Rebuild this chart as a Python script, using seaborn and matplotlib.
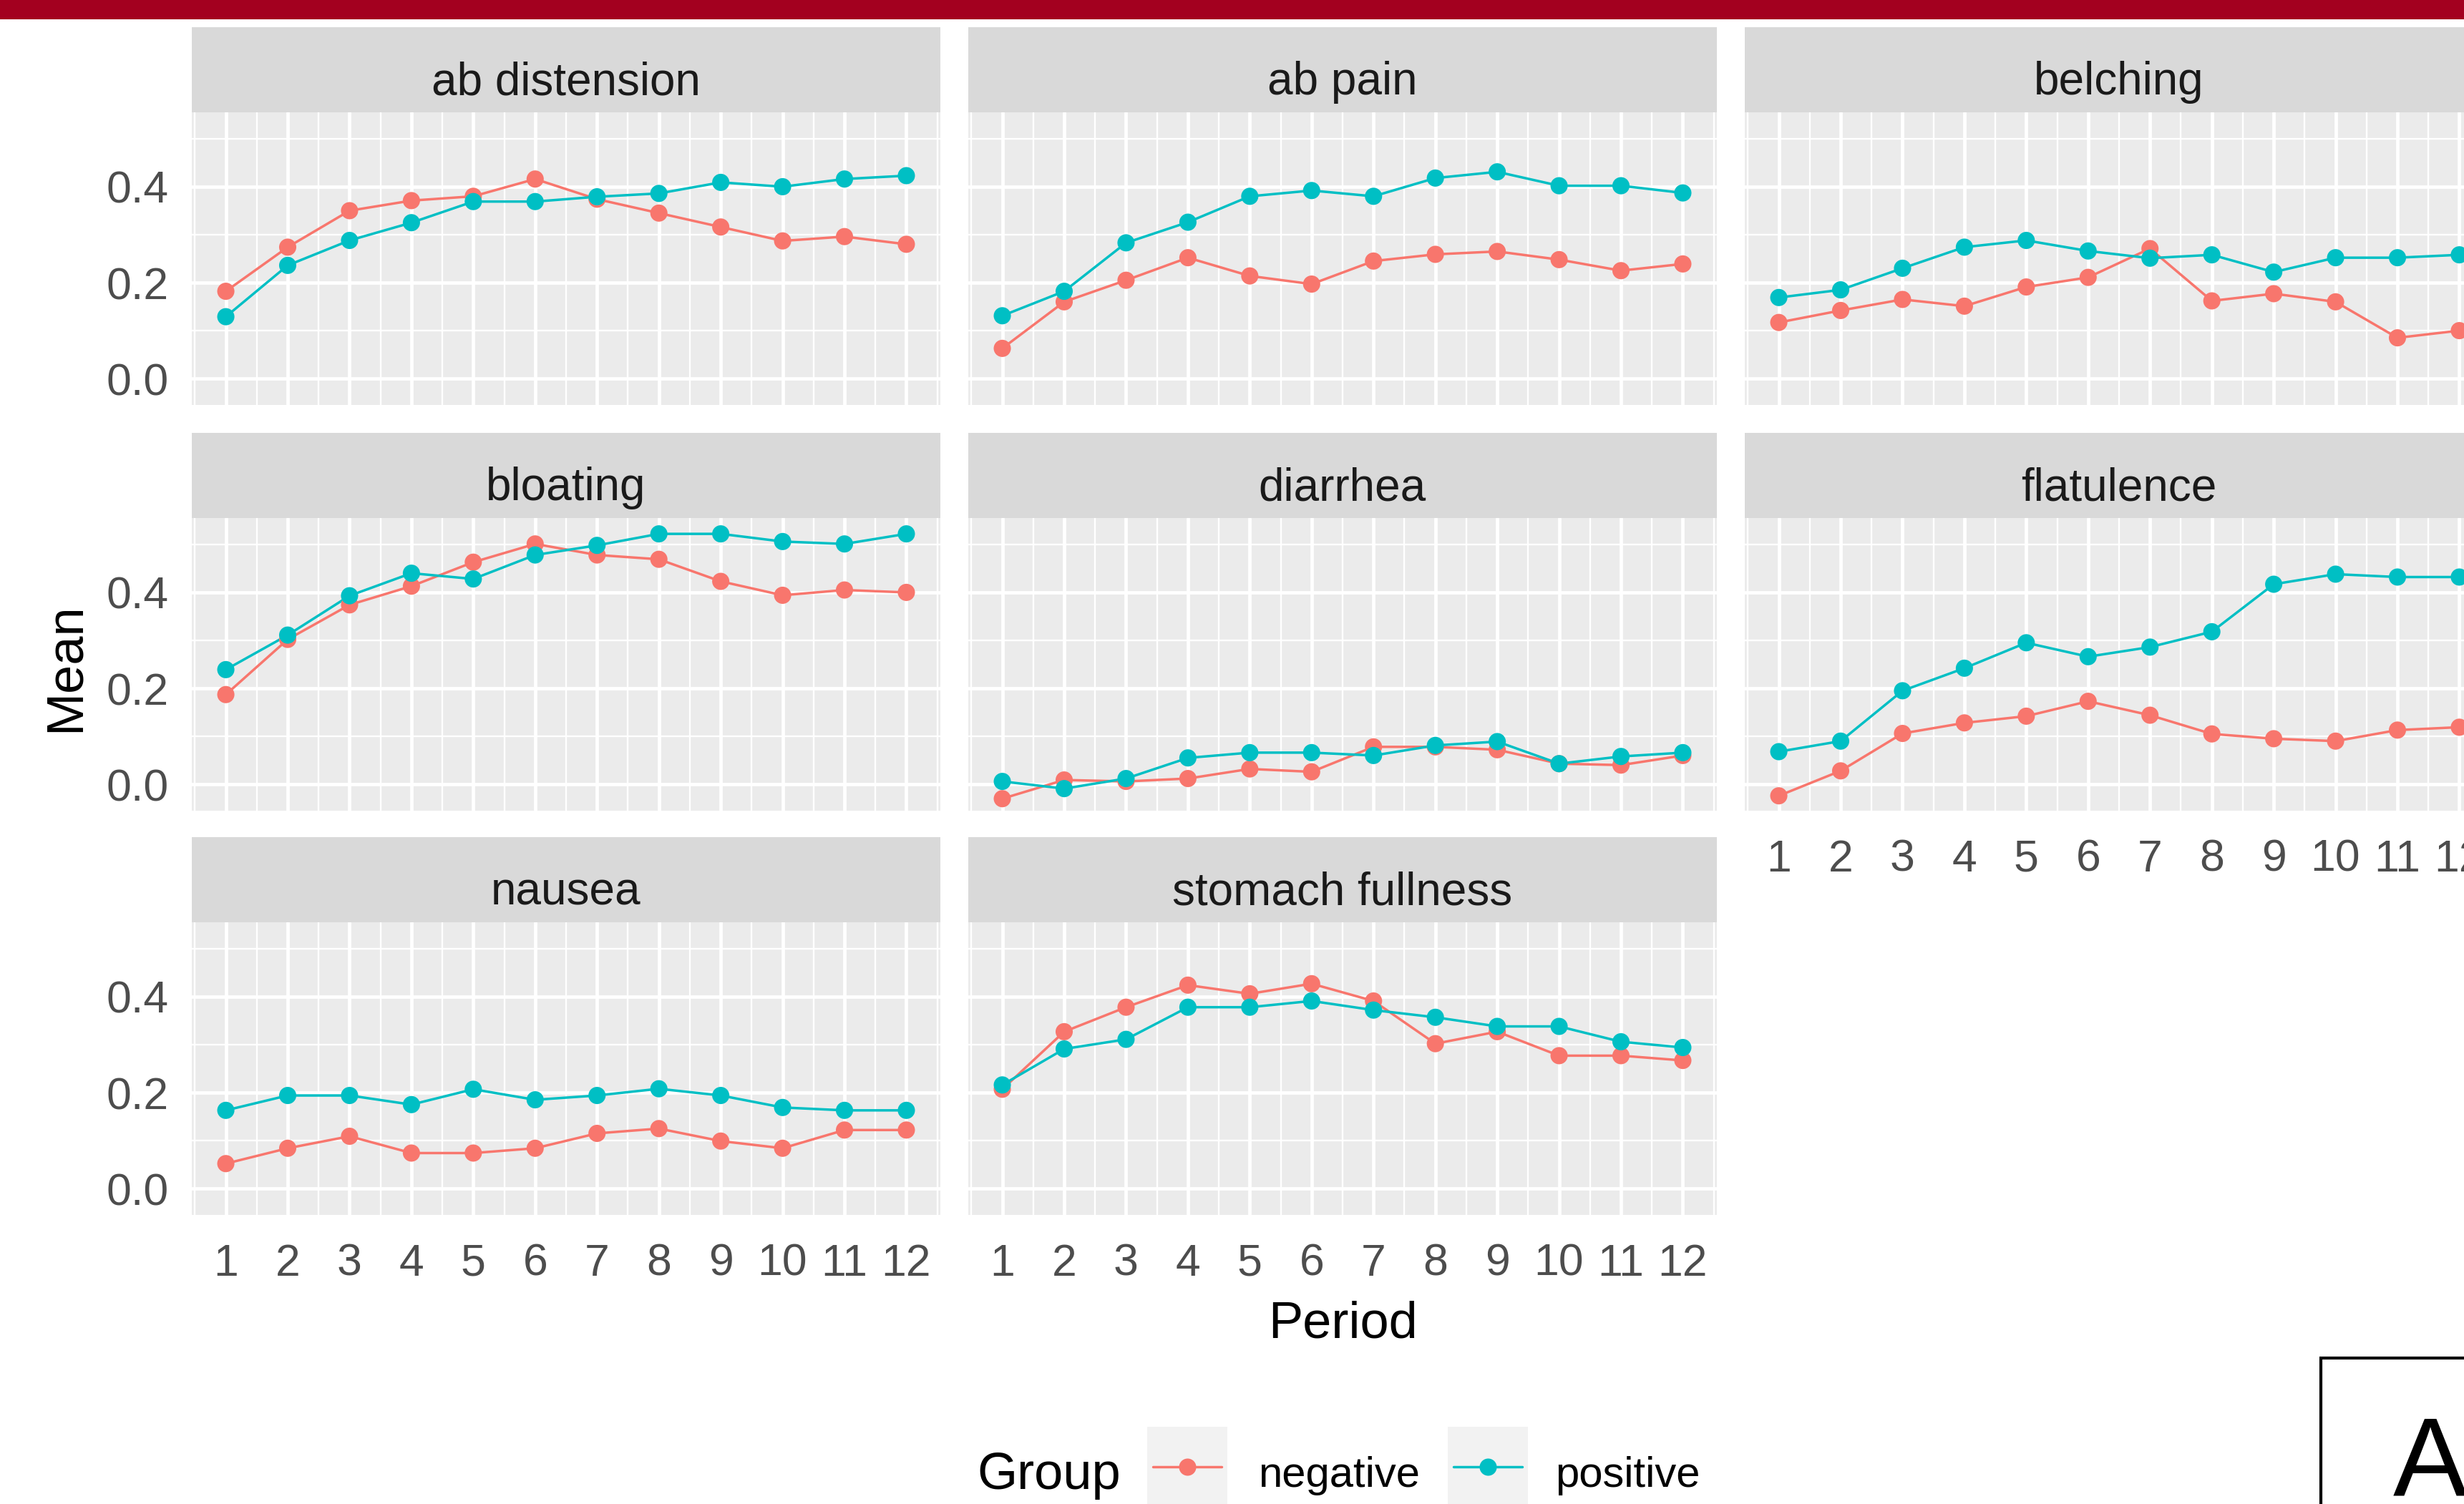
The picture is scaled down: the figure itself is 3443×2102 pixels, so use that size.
import numpy as np
import pandas as pd
import matplotlib
matplotlib.use("Agg")
import matplotlib.pyplot as plt
from matplotlib.patches import Rectangle
import seaborn as sns

# values
periods = list(range(1, 13))
symptoms = ["ab distension", "ab pain", "belching", "bloating",
            "diarrhea", "flatulence", "nausea", "stomach fullness"]
groups = ["negative", "positive"]
group_colors = {"negative": "#F8766D", "positive": "#00BFC4"}

ab_distension_neg = [0.182, 0.274, 0.350, 0.371, 0.380, 0.416, 0.374, 0.345, 0.316, 0.287, 0.296, 0.280]
ab_distension_pos = [0.129, 0.236, 0.288, 0.325, 0.369, 0.369, 0.379, 0.386, 0.409, 0.400, 0.416, 0.423]
ab_pain_neg = [0.063, 0.160, 0.205, 0.252, 0.214, 0.197, 0.245, 0.259, 0.265, 0.248, 0.225, 0.239]
ab_pain_pos = [0.131, 0.182, 0.283, 0.326, 0.380, 0.392, 0.380, 0.418, 0.431, 0.402, 0.402, 0.387]
belching_neg = [0.117, 0.142, 0.165, 0.151, 0.191, 0.211, 0.271, 0.162, 0.177, 0.160, 0.085, 0.100]
belching_pos = [0.169, 0.185, 0.230, 0.274, 0.288, 0.266, 0.251, 0.258, 0.222, 0.252, 0.252, 0.258]
bloating_neg = [0.187, 0.302, 0.374, 0.413, 0.463, 0.501, 0.478, 0.469, 0.423, 0.394, 0.405, 0.400]
bloating_pos = [0.239, 0.311, 0.393, 0.440, 0.428, 0.478, 0.498, 0.522, 0.522, 0.506, 0.501, 0.522]
diarrhea_neg = [-0.030, 0.009, 0.006, 0.012, 0.032, 0.026, 0.078, 0.078, 0.072, 0.043, 0.040, 0.060]
diarrhea_pos = [0.006, -0.009, 0.012, 0.055, 0.066, 0.066, 0.060, 0.081, 0.089, 0.043, 0.058, 0.066]
flatulence_neg = [-0.024, 0.028, 0.106, 0.128, 0.142, 0.173, 0.144, 0.105, 0.095, 0.090, 0.113, 0.119]
flatulence_pos = [0.068, 0.090, 0.195, 0.242, 0.295, 0.266, 0.286, 0.318, 0.417, 0.438, 0.432, 0.432]
nausea_neg = [0.052, 0.084, 0.109, 0.074, 0.074, 0.084, 0.115, 0.125, 0.099, 0.084, 0.122, 0.122]
nausea_pos = [0.163, 0.194, 0.194, 0.175, 0.207, 0.185, 0.194, 0.208, 0.194, 0.169, 0.163, 0.163]
stomach_fullness_neg = [0.207, 0.327, 0.378, 0.424, 0.406, 0.427, 0.391, 0.302, 0.327, 0.277, 0.277, 0.267]
stomach_fullness_pos = [0.216, 0.291, 0.311, 0.378, 0.378, 0.391, 0.372, 0.357, 0.338, 0.338, 0.306, 0.294]

neg_values = [ab_distension_neg, ab_pain_neg, belching_neg, bloating_neg,
              diarrhea_neg, flatulence_neg, nausea_neg, stomach_fullness_neg]
pos_values = [ab_distension_pos, ab_pain_pos, belching_pos, bloating_pos,
              diarrhea_pos, flatulence_pos, nausea_pos, stomach_fullness_pos]

rows = []
for sym, neg, pos in zip(symptoms, neg_values, pos_values):
    for p, v in zip(periods, neg):
        rows.append((sym, p, "negative", v))
    for p, v in zip(periods, pos):
        rows.append((sym, p, "positive", v))
df = pd.DataFrame(rows, columns=["Symptom", "Period", "Group", "Mean"])

# figure in pixel units
W, H = 3443, 2102
DPI = 100

sns.set_theme(style="white")
plt.rcParams["font.family"] = ["Liberation Sans", "DejaVu Sans"]

fig = plt.figure(figsize=(W / DPI, H / DPI), dpi=DPI)
fig.patch.set_facecolor("white")


def px_axes(left, top, width, height):
    return fig.add_axes([left / W, 1 - (top + height) / H, width / W, height / H])


col_left = [268, 1353, 2438]
strip_top = [38, 605, 1170]
panel_w = 1046
strip_h = 119
panel_h = 409

tick_fs = 45
strip_fs = 46
big = 52
legend_fs = 43
line_w = 2.5
dot_s = 300
left_panels = [0, 3, 6]
bottom_panels = [5, 6, 7]

for i, sym in enumerate(symptoms):
    r, c = divmod(i, 3)

    # strip
    sax = px_axes(col_left[c], strip_top[r], panel_w, strip_h)
    sax.set_facecolor("#D9D9D9")
    sax.set_xticks([])
    sax.set_yticks([])
    for sp in sax.spines.values():
        sp.set_visible(False)
    sax.text(0.5, 0.21, sym, ha="center", va="baseline", fontsize=strip_fs,
             color="#1A1A1A", transform=sax.transAxes)

    # panel
    ax = px_axes(col_left[c], strip_top[r] + strip_h, panel_w, panel_h)
    ax.set_facecolor("#EBEBEB")
    for sp in ax.spines.values():
        sp.set_visible(False)

    sub = df[df["Symptom"] == sym]
    sns.lineplot(data=sub, x="Period", y="Mean", hue="Group", hue_order=groups,
                 palette=group_colors, linewidth=line_w, errorbar=None,
                 legend=False, ax=ax, zorder=3)
    sns.scatterplot(data=sub, x="Period", y="Mean", hue="Group", hue_order=groups,
                    palette=group_colors, s=dot_s, linewidth=0,
                    legend=False, ax=ax, zorder=4)

    ax.set_xlim(0.45, 12.55)
    ax.set_ylim(-0.055, 0.555)
    ax.set_xticks(periods)
    ax.set_xticks(np.arange(0.5, 13, 1), minor=True)
    ax.set_yticks([0.0, 0.2, 0.4])
    ax.set_yticks([0.1, 0.3, 0.5], minor=True)
    ax.grid(which="major", color="white", linewidth=3.4)
    ax.grid(which="minor", color="white", linewidth=1.7)
    ax.set_axisbelow(True)
    ax.set_xlabel("")
    ax.set_ylabel("")
    ax.tick_params(which="minor", length=0)
    ax.tick_params(which="major", length=11, width=2.2, color="#333333",
                   labelsize=tick_fs, labelcolor="#4D4D4D")
    ax.tick_params(axis="x", pad=17)
    ax.tick_params(axis="y", pad=12)

    if i in left_panels:
        ax.set_yticklabels(["0.0", "0.2", "0.4"])
    else:
        ax.tick_params(axis="y", which="major", length=0, labelleft=False)
    if i in bottom_panels:
        ax.set_xticklabels([str(p) for p in periods])
    else:
        ax.tick_params(axis="x", which="major", length=0, labelbottom=False)

# axis titles
fig.text(92 / W, 1 - 933 / H, "Mean", rotation=90, ha="center", va="center",
         fontsize=big, color="black")
fig.text(1876 / W, 1 - 1851 / H, "Period", ha="center", va="center",
         fontsize=big, color="black")

# legend
fig.text(1365 / W, 1 - 2062 / H, "Group", ha="left", va="center",
         fontsize=big, color="black")
key_left = {"negative": 1603, "positive": 2023}
label_left = {"negative": 1758, "positive": 2173}
for g in groups:
    kax = px_axes(key_left[g], 1994, 112, 112)
    kax.set_facecolor("#F2F2F2")
    kax.set_xlim(-1, 1)
    kax.set_ylim(-1, 1)
    kax.set_xticks([])
    kax.set_yticks([])
    for sp in kax.spines.values():
        sp.set_visible(False)
    kax.plot([-0.85, 0.85], [0, 0], color=group_colors[g], linewidth=line_w)
    kax.scatter([0], [0], color=group_colors[g], s=dot_s, linewidth=0, zorder=3)
    fig.text(label_left[g] / W, 1 - 2062 / H, g, ha="left", va="center",
             fontsize=legend_fs, color="black")

# red band on top
fig.patches.append(Rectangle((0, 1 - 27 / H), 1, 27 / H + 0.01,
                             transform=fig.transFigure, facecolor="#A3001F",
                             edgecolor="none", zorder=10))

# panel letter box (cut at the corner)
fig.patches.append(Rectangle((3243 / W, -0.01), (W - 3243) / W + 0.01, (H - 1898) / H + 0.01,
                             transform=fig.transFigure, facecolor="white",
                             edgecolor="black", linewidth=3, zorder=10))
fig.text(3344 / W, 1 - 2090 / H, "A", ha="left", va="baseline",
         fontsize=112, color="black", zorder=11)

fig.savefig("out.png", dpi=DPI)
